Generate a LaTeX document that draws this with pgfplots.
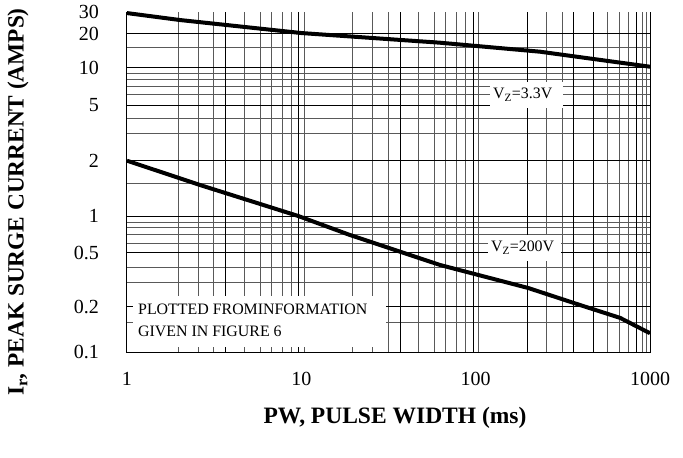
\documentclass[border=0pt]{standalone}
\usepackage{fontspec}
\setmainfont{Liberation Serif}
\usepackage{pgfplots}
\pgfplotsset{compat=1.18}

% the printed grid is not an even log scale: map each value onto the
% printed position of its grid lines (piecewise linear between them)
\newcommand\seg[4]{\pgfmathparse{#2+(\yv-#1)*(#4-#2)/(#3-#1)}}
\newcommand\surgetrafo[1]{%
  \pgfmathfloatparsenumber{#1}\pgfmathfloattofixed{\pgfmathresult}\let\yv\pgfmathresult
  \ifdim\yv pt<0.15pt \seg{0.1}{0}{0.15}{29.3}\else
  \ifdim\yv pt<0.2pt \seg{0.15}{29.3}{0.2}{45.3}\else
  \ifdim\yv pt<0.3pt \seg{0.2}{45.3}{0.3}{69.3}\else
  \ifdim\yv pt<0.4pt \seg{0.3}{69.3}{0.4}{85}\else
  \ifdim\yv pt<0.5pt \seg{0.4}{85}{0.5}{99.3}\else
  \ifdim\yv pt<0.6pt \seg{0.5}{99.3}{0.6}{109}\else
  \ifdim\yv pt<0.7pt \seg{0.6}{109}{0.7}{117}\else
  \ifdim\yv pt<0.8pt \seg{0.7}{117}{0.8}{124}\else
  \ifdim\yv pt<0.9pt \seg{0.8}{124}{0.9}{129.3}\else
  \ifdim\yv pt<1pt \seg{0.9}{129.3}{1}{136}\else
  \ifdim\yv pt<1.5pt \seg{1}{136}{1.5}{168}\else
  \ifdim\yv pt<2pt \seg{1.5}{168}{2}{191.3}\else
  \ifdim\yv pt<3pt \seg{2}{191.3}{3}{218}\else
  \ifdim\yv pt<4pt \seg{3}{218}{4}{233}\else
  \ifdim\yv pt<5pt \seg{4}{233}{5}{247}\else
  \ifdim\yv pt<6pt \seg{5}{247}{6}{257}\else
  \ifdim\yv pt<7pt \seg{6}{257}{7}{265}\else
  \ifdim\yv pt<8pt \seg{7}{265}{8}{272}\else
  \ifdim\yv pt<9pt \seg{8}{272}{9}{278}\else
  \ifdim\yv pt<10pt \seg{9}{278}{10}{284.3}\else
  \ifdim\yv pt<15pt \seg{10}{284.3}{15}{304}\else
  \ifdim\yv pt<20pt \seg{15}{304}{20}{318.3}\else
  \seg{20}{318.3}{30}{340}%
  \fi\fi\fi\fi\fi\fi\fi\fi\fi\fi\fi\fi\fi\fi\fi\fi\fi\fi\fi\fi\fi\fi}

\begin{document}
\begin{tikzpicture}
\useasboundingbox (-127pt,-106pt) rectangle (556pt,352pt);
\begin{axis}[
    at={(0,0)}, anchor=south west,
    scale only axis, width=523pt, height=340pt,
    xmode=log, xmin=1, xmax=1000,
    ymin=0.1, ymax=30,
    y coord trafo/.code={\surgetrafo{#1}},
    clip=false,
    axis line style={draw=none},
    major tick length=0pt, minor tick length=0pt,
    xtick={1,10,100,1000}, xticklabels={1,10,100,1000},
    minor xtick={1.97,2.565,3.15,4.73,5.8,6.73,7.75,8.76,10.4,
                 19.7,25.65,31.5,47.3,58,67.3,77.5,87.6,104,
                 256.5,313,574,667,755,900,961},
    extra x ticks={3.69,9.65,36.9,96.5,197,365,471,831},
    extra x tick labels={},
    extra x tick style={xmajorgrids=true},
    ytick={0.1,0.2,0.5,1,2,5,10,20},
    yticklabels={0.1,0.2,0.5,1,2,5,10,20},
    minor ytick={0.15,0.3,0.4,0.6,0.7,0.8,0.9,1.5,3,4,6,7,8,9,15},
    extra y ticks={30}, extra y tick labels={30},
    extra y tick style={ymajorgrids=false},
    xmajorgrids=false, xminorgrids=true,
    ymajorgrids=true, yminorgrids=true,
    major grid style={black, line width=0.9pt},
    minor grid style={black!65, line width=1pt},
    xticklabel style={font=\fontsize{20}{24}\selectfont, anchor=north, inner sep=0pt, yshift=-20pt},
    yticklabel style={font=\fontsize{20}{24}\selectfont, anchor=east, inner sep=0pt, xshift=-28pt},
    xlabel={PW, PULSE WIDTH (ms)},
    xlabel style={at={(axis description cs:0.5124,-0.195)}, anchor=center, inner sep=0pt,
                  font=\fontsize{23.5}{26}\selectfont\bfseries},
    ylabel={I\textsubscript{r}, PEAK SURGE CURRENT (AMPS)},
    ylabel style={at={(axis description cs:-0.2084,0.441)}, anchor=center, inner sep=0pt,
                  font=\fontsize{23.3}{26}\selectfont\bfseries},
]
\addplot[black, line width=4pt, line join=round] coordinates {
    (1,29.5) (2.013,26.3) (10,20.3) (62.5,16.85) (234,14.06) (1000,10.25)};
\addplot[black, line width=4pt, line join=round] coordinates {
    (1,2) (2.624,1.484) (9.6,1.0) (19,0.7) (62.5,0.414) (200,0.278)
    (397,0.207) (674,0.165) (1000,0.132)};

\draw[black, line width=1pt] (rel axis cs:0,1) -- (rel axis cs:0,0)
    -- (rel axis cs:1,0) -- (rel axis cs:1,1);

\fill[white] (rel axis cs:0.0115,0.0147) rectangle (rel axis cs:0.4952,0.1647);
\node[anchor=west, inner sep=0pt, font=\fontsize{15.9}{20}\selectfont]
    at (rel axis cs:0.021,0.1265) {PLOTTED FROMINFORMATION};
\node[anchor=west, inner sep=0pt, font=\fontsize{15.9}{20}\selectfont]
    at (rel axis cs:0.021,0.0618) {GIVEN IN FIGURE 6};

\node[fill=white, anchor=west, inner xsep=3pt, inner ysep=0pt, minimum height=26pt,
      text width=67pt, align=left, font=\fontsize{15.9}{20}\selectfont]
    at (rel axis cs:0.694,0.756) {V\textsubscript{Z}=3.3V};
\node[fill=white, anchor=west, inner xsep=3pt, inner ysep=0pt, minimum height=26pt,
      text width=67pt, align=left, font=\fontsize{15.9}{20}\selectfont]
    at (rel axis cs:0.690,0.307) {V\textsubscript{Z}=200V};
\end{axis}
\end{tikzpicture}
\end{document}
